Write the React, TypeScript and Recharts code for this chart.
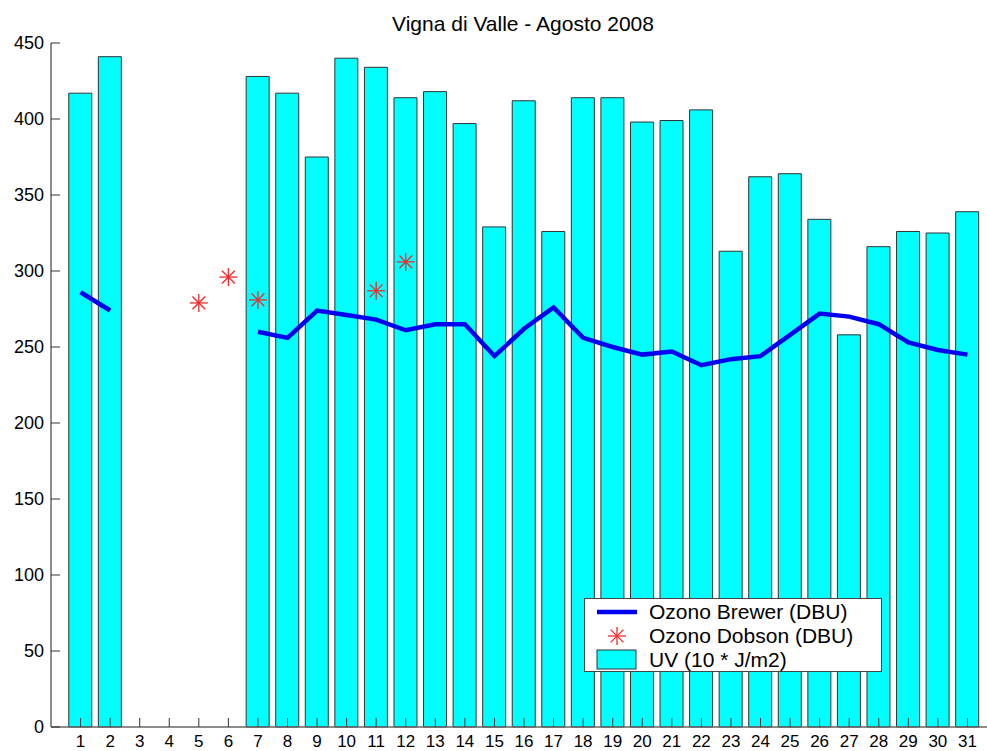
import React from "react";
import {
  ComposedChart,
  Bar,
  Line,
  Scatter,
  XAxis,
  YAxis,
} from "recharts";

const days = [
  1, 2, 3, 4, 5, 6, 7, 8, 9, 10, 11, 12, 13, 14, 15, 16,
  17, 18, 19, 20, 21, 22, 23, 24, 25, 26, 27, 28, 29, 30, 31,
];

// UV (10 * J/m2), no data on days 3-6
const uv = [
  417, 441, null, null, null, null, 428, 417, 375, 440, 434, 414, 418, 397, 329, 412,
  326, 414, 414, 398, 399, 406, 313, 362, 364, 334, 258, 316, 326, 325, 339,
];

// Ozono Brewer (DBU)
const brewer = [
  286, 274, null, null, null, null, 260, 256, 274, 271, 268, 261, 265, 265, 244, 262,
  276, 256, 250, 245, 247, 238, 242, 244, 258, 272, 270, 265, 253, 248, 245,
];

// Ozono Dobson (DBU), only a few days
const dobsonDays = [5, 6, 7, 11, 12];
const dobson = [279, 296, 281, 287, 306];

const yTicks = [0, 50, 100, 150, 200, 250, 300, 350, 400, 450];

const data = days.map((d, i) => ({ day: d, uv: uv[i], brewer: brewer[i] }));
const dobsonData = dobsonDays.map((d, i) => ({ day: d, dobson: dobson[i] }));

const FONT = "'Liberation Sans', Arial, sans-serif";
const AXIS = "#666";
const TICK = "#333";

function BottomTick(props: any) {
  const { x, y, payload } = props;
  return (
    <g>
      <line x1={x} x2={x} y1={y} y2={y - 9} stroke={TICK} strokeWidth={1} />
      <text x={x} y={y + 20} textAnchor="middle" fontSize={17} fontFamily={FONT} fill="#000">
        {payload.value}
      </text>
    </g>
  );
}

function TopTick(props: any) {
  const { x, y } = props;
  return <line x1={x} x2={x} y1={y} y2={y + 9} stroke={TICK} strokeWidth={1} />;
}

function LeftTick(props: any) {
  const { x, y, payload } = props;
  return (
    <g>
      <line x1={x} x2={x + 9} y1={y} y2={y} stroke={TICK} strokeWidth={1} />
      <text x={x - 7} y={y + 6} textAnchor="end" fontSize={18} fontFamily={FONT} fill="#000">
        {payload.value}
      </text>
    </g>
  );
}

function Star(props: any) {
  const { cx, cy } = props;
  const r = 9;
  const d = 6.4;
  return (
    <g stroke="#ee2a2a" strokeWidth={1.3}>
      <line x1={cx - r} x2={cx + r} y1={cy} y2={cy} />
      <line x1={cx} x2={cx} y1={cy - r} y2={cy + r} />
      <line x1={cx - d} x2={cx + d} y1={cy - d} y2={cy + d} />
      <line x1={cx - d} x2={cx + d} y1={cy + d} y2={cy - d} />
    </g>
  );
}

function LegendBox() {
  const row = { display: "flex", alignItems: "center", height: 24 } as const;
  return (
    <div
      style={{
        position: "absolute",
        left: 584,
        top: 598,
        width: 296,
        height: 72,
        border: "1px solid #444",
        background: "#fff",
        fontFamily: FONT,
        fontSize: 21,
        color: "#000",
        boxSizing: "content-box",
      }}
    >
      <div style={{ paddingTop: 1 }}>
        <div style={row}>
          <svg width={64} height={24}>
            <line x1={12} x2={52} y1={12} y2={12} stroke="#0000f0" strokeWidth={4.5} />
          </svg>
          <span>Ozono Brewer (DBU)</span>
        </div>
        <div style={row}>
          <svg width={64} height={24}>
            <Star cx={32} cy={12} />
          </svg>
          <span>Ozono Dobson (DBU)</span>
        </div>
        <div style={row}>
          <svg width={64} height={24}>
            <rect x={12} y={2} width={39} height={19} fill="#00ffff" stroke="#333" strokeWidth={1} />
          </svg>
          <span>UV (10 * J/m2)</span>
        </div>
      </div>
    </div>
  );
}

export default function App() {
  return (
    <div
      style={{
        position: "absolute",
        left: 0,
        top: 0,
        width: 987,
        height: 751,
        overflow: "hidden",
        background: "#fff",
      }}
    >
      <div
        style={{
          position: "absolute",
          left: 0,
          top: 13,
          width: 1046,
          textAlign: "center",
          fontFamily: FONT,
          fontSize: 21,
          lineHeight: "21px",
          color: "#000",
        }}
      >
        Vigna di Valle - Agosto 2008
      </div>
      <ComposedChart
        width={1010}
        height={751}
        data={data}
        margin={{ top: 43, right: 13, left: 0, bottom: 0 }}
      >
        <XAxis
          xAxisId="bottom"
          dataKey="day"
          type="number"
          domain={[0, 32]}
          ticks={days}
          interval={0}
          height={24}
          tickSize={0}
          tickMargin={0}
          tick={<BottomTick />}
          axisLine={{ stroke: AXIS, strokeWidth: 1.5 }}
        />
        <XAxis
          xAxisId="top"
          orientation="top"
          dataKey="day"
          type="number"
          domain={[0, 32]}
          ticks={days}
          interval={0}
          height={0}
          tickSize={0}
          tickMargin={0}
          tick={<TopTick />}
          axisLine={{ stroke: AXIS, strokeWidth: 1.5 }}
        />
        <YAxis
          type="number"
          domain={[0, 450]}
          ticks={yTicks}
          interval={0}
          width={51}
          tickSize={0}
          tickMargin={0}
          tick={<LeftTick />}
          axisLine={{ stroke: AXIS, strokeWidth: 1.5 }}
        />
        <Bar
          xAxisId="bottom"
          dataKey="uv"
          barSize={23}
          fill="#00ffff"
          stroke="#333"
          strokeWidth={1}
          isAnimationActive={false}
        />
        <Line
          xAxisId="bottom"
          dataKey="brewer"
          type="linear"
          stroke="#0000f0"
          strokeWidth={4.5}
          dot={false}
          activeDot={false}
          isAnimationActive={false}
        />
        <Scatter
          xAxisId="bottom"
          data={dobsonData}
          dataKey="dobson"
          shape={<Star />}
          isAnimationActive={false}
        />
      </ComposedChart>
      <LegendBox />
    </div>
  );
}
